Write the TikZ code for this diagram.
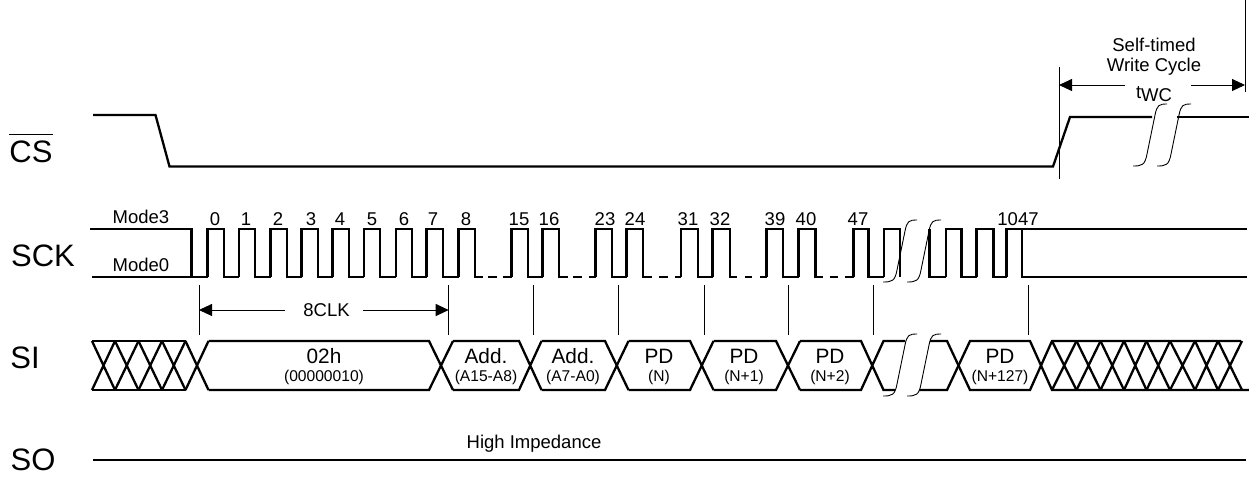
\documentclass[tikz,border=0pt]{standalone}
\usepackage{fontspec}
\setmainfont{Liberation Sans}
\usetikzlibrary{arrows.meta}

\tikzset{
    sig/.style={black, line width=2.3pt, line join=miter},
    thinline/.style={black, line width=0.9pt},
    larrow/.style={thinline, {Triangle[length=13pt,width=12pt]}-},
    rarrow/.style={thinline, -{Triangle[length=13pt,width=12pt]}},
    lab/.style={font=\fontsize{18.5}{20}\selectfont, inner sep=0pt},
    big/.style={font=\fontsize{31}{33}\selectfont, inner sep=0pt},
    mid/.style={font=\fontsize{20.8}{22}\selectfont, inner sep=0pt},
    sub/.style={font=\fontsize{15.6}{17}\selectfont, inner sep=0pt},
    brk/.pic={\draw[thinline] (0,0) .. controls (9,0) and (12,-1) .. (14,-12) -- (22,-51) .. controls (24,-61) and (26,-62) .. (34,-62);}
}

\begin{document}
\begin{tikzpicture}[x=1pt, y=-1pt]
    \useasboundingbox (0,0) rectangle (1249,477);

    % CS
    \node[big] (cslab) at (31,152) {CS};
    \draw[thinline] ([yshift=6pt]cslab.north west) -- ([yshift=6pt]cslab.north east);
    \draw[sig] (93,115) -- (155.5,115) -- (169.5,166.5) -- (1053,166.5) -- (1070,117) -- (1152,117);
    \draw[sig] (1177,117) -- (1249,117);
    \pic at (1133,166) {brk};
    \pic at (1157,166) {brk};

    % write cycle
    \draw[thinline] (1059,67) -- (1059,179);
    \draw[thinline] (1245,0) -- (1245,92);
    \node[lab] (selflab) at (1154,45) {Self-timed};
    \node[lab] (writelab) at (1154,67) {Write Cycle};
    \node[lab] (twclab) at (1154,94) {\raisebox{3pt}{t}WC};
    \coordinate (wcl) at (1059,85);
    \coordinate (wcr) at (1245,85);
    \draw[larrow] (wcl) -- (1125,85);
    \draw[rarrow] (1191,85) -- (wcr);

    % SCK
    \node[big] (scklab) at (43,255.5) {SCK};
    \node[lab] (modethree) at (141,217) {Mode3};
    \node[lab] (modezero) at (141,265) {Mode0};
    \draw[sig] (90,229) -- (191.5,229) -- (191.5,277);
    \draw[sig] (92,277) -- (207.5,277);
    \foreach \rise/\fall/\next in {207.5/224/239, 239/255/270.5, 270.5/287/301.5, 301.5/318/332.5,
        332.5/349/364, 364/380/396, 396/412/426.5, 426.5/443/458.5,
        511.5/528/542.5, 595.5/612/626.5, 681/698/712.5, 766.5/783/798.5, 853.5/868.5/884,
        946/961.5/976.5, 976.5/993.5/1006.5} {
        \draw[sig] (\rise,277) -- (\rise,229) -- (\fall,229) -- (\fall,277) -- (\next,277);
    }
    \foreach \rise/\fall/\stub in {458.5/475/483, 542.5/559/568, 626.5/643/652, 712.5/730/737, 798.5/815.5/822.5} {
        \draw[sig] (\rise,277) -- (\rise,229) -- (\fall,229) -- (\fall,277) -- (\stub,277);
    }
    \foreach \from/\to in {503/511.5, 589/595.5, 675/681, 760/766.5, 845/853.5} {
        \draw[sig] (\from,277) -- (\to,277);
    }
    \foreach \from/\to in {488/497, 573/582, 659/668, 745/752, 830/837.5} {
        \draw[sig] (\from,277) -- (\to,277);
    }
    \draw[sig] (884,277) -- (884,229) -- (900,229) -- (900,277);
    \draw[sig] (929.5,229) -- (929.5,277) -- (946,277);
    \draw[sig] (1006.5,277) -- (1006.5,229) -- (1022,229) -- (1022,277) -- (1247,277);
    \draw[sig] (1022,229) -- (1247,229);
    \pic at (883,282) {brk};
    \pic at (907,282) {brk};

    \foreach \name/\txt/\xpos in {c0/0/215, c1/1/246, c2/2/278, c3/3/311, c4/4/340, c5/5/372, c6/6/404,
        c7/7/433, c8/8/466, c15/15/519, c16/16/549, c23/23/605, c24/24/635, c31/31/688, c32/32/720,
        c39/39/775, c40/40/806, c47/47/858, c1047/1047/1018} {
        \node[lab] (\name) at (\xpos,219) {\txt};
    }

    % ticks
    \foreach \xpos in {199,448.7,533.3,618.7,704,788.7,873.7,1028.7} {
        \draw[thinline] (\xpos,285) -- (\xpos,334.5);
    }
    \node[lab] (clklab) at (326.5,310) {8CLK};
    \draw[larrow] (199,310) -- (285,310);
    \draw[rarrow] (363,310) -- (448.7,310);

    % SI
    \node[big] (silab) at (25,358) {SI};
    \draw[sig] (92,341) -- (185.5,341) (92,390) -- (185.5,390);
    \foreach \a/\b in {92/115, 115/138.5, 138.5/162, 162/185.5, 185.5/208.5} {
        \draw[sig] (\a,341) -- (\b,390) (\a,390) -- (\b,341);
    }
    \foreach \a/\b/\c in {208.5/429/453, 453/519/541.5, 541.5/605/628.5,
        628.5/690/713.5, 713.5/776/800} {
        \draw[sig] (\a,341) -- (\b,341) -- (\c,390) (\a,390) -- (\b,390) -- (\c,341);
    }
    \draw[sig] (800,341) -- (861,341) -- (883.5,390) -- (895,390) (800,390) -- (861,390) -- (883.5,341) -- (905,341);
    \draw[sig] (930,341) -- (947,341) -- (970,390) -- (1030,390) -- (1052,341) -- (1241,341);
    \draw[sig] (919,390) -- (947,390) -- (970,341) -- (1030,341) -- (1052,390) -- (1249,390);
    \foreach \a/\b in {1052/1076.5, 1076.5/1100.5, 1100.5/1124, 1124/1146.5, 1146.5/1170, 1170/1195, 1195/1218, 1218/1242} {
        \draw[sig] (\a,341) -- (\b,390) (\a,390) -- (\b,341);
    }
    \pic at (883,396) {brk};
    \pic at (907,396) {brk};

    \foreach \name/\top/\bot/\xpos in {d0/02h/(00000010)/324, d1/Add./(A15-A8)/486, d2/Add./(A7-A0)/573,
        d3/PD/(N)/659, d4/PD/(N+1)/744, d5/PD/(N+2)/830, d6/PD/(N+127)/1000} {
        \node[mid] (\name) at (\xpos,356) {\top};
        \node[sub] (\name b) at (\xpos,377) {\bot};
    }

    % SO
    \node[big] (solab) at (33,460) {SO};
    \node[lab] (hilab) at (534,444) {High Impedance};
    \coordinate (sol) at (93,460);
    \coordinate (sor) at (1246,460);
    \draw[sig] (sol) -- (sor);
\end{tikzpicture}
\end{document}
